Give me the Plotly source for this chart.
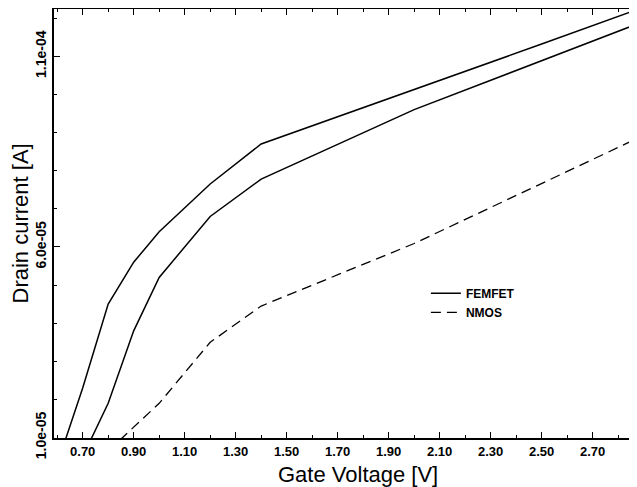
import plotly.graph_objects as go

# FEMFET, upper branch
v_fem_a = [0.6, 0.7, 0.8, 0.9, 1.0, 1.2, 1.4, 2.0, 2.5, 3.0]
i_fem_a = [0.3e-5, 2.3e-5, 4.5e-5, 5.6e-5, 6.4e-5, 7.65e-5, 8.7e-5, 1.012e-4, 1.132e-4, 1.253e-4]

# FEMFET, lower branch
v_fem_b = [0.7, 0.8, 0.9, 1.0, 1.2, 1.4, 2.0, 2.5, 3.0]
i_fem_b = [0.5e-5, 1.9e-5, 3.8e-5, 5.2e-5, 6.8e-5, 7.78e-5, 9.6e-5, 1.089e-4, 1.217e-4]

# NMOS
v_nmos = [0.8, 1.0, 1.2, 1.4, 2.0, 2.5, 3.0]
i_nmos = [0.65e-5, 1.9e-5, 3.5e-5, 4.45e-5, 6.09e-5, 7.66e-5, 9.24e-5]

x_tick_vals = [0.7, 0.9, 1.1, 1.3, 1.5, 1.7, 1.9, 2.1, 2.3, 2.5, 2.7]
x_tick_text = ["0.70", "0.90", "1.10", "1.30", "1.50", "1.70", "1.90", "2.10", "2.30", "2.50", "2.70"]
y_tick_vals = [1.0e-5, 6.0e-5, 1.1e-4]
y_tick_text = ["1.0e-05", "6.0e-05", "1.1e-04"]

FONT = "Liberation Sans, Arial, sans-serif"

fig = go.Figure()
fig.add_trace(go.Scatter(x=v_fem_a, y=i_fem_a, mode="lines", name="FEMFET",
                         legendgroup="fem", line=dict(color="black", width=1.5)))
fig.add_trace(go.Scatter(x=v_fem_b, y=i_fem_b, mode="lines", name="FEMFET",
                         legendgroup="fem", showlegend=False,
                         line=dict(color="black", width=1.5)))
fig.add_trace(go.Scatter(x=v_nmos, y=i_nmos, mode="lines", name="NMOS",
                         line=dict(color="black", width=1.3, dash="10px,6px")))

# the page body adds an 8px offset, so the figure is sized to fill the window from there
fig.update_layout(
    width=629, height=479,
    margin=dict(l=46, r=1, t=1, b=49, autoexpand=False),
    paper_bgcolor="white", plot_bgcolor="white",
    font=dict(family=FONT, color="black"),
    showlegend=True,
    legend=dict(x=0.639, y=0.371, xanchor="left", yanchor="top",
                bgcolor="rgba(0,0,0,0)", font=dict(size=12, family=FONT, weight="bold"),
                itemwidth=30, tracegroupgap=0),
    annotations=[
        dict(text="Gate Voltage [V]", xref="paper", yref="paper", x=0.522, y=0,
             xanchor="center", yanchor="middle", yshift=-36, showarrow=False,
             font=dict(size=22, family=FONT)),
        dict(text="Drain current [A]", xref="paper", yref="paper", x=0, y=0.5,
             xanchor="center", yanchor="middle", xshift=-34, textangle=-90,
             showarrow=False, font=dict(size=22, family=FONT)),
    ],
)
fig.update_xaxes(
    range=[0.5875, 2.87], showgrid=False, zeroline=False, automargin=False,
    showline=True, linecolor="black", linewidth=2, mirror="allticks",
    ticks="inside", ticklen=6, tickwidth=1, tickcolor="black",
    tickvals=x_tick_vals, ticktext=x_tick_text,
    tickfont=dict(size=13, family=FONT, weight="bold"),
    minor=dict(dtick=0.1, tick0=0.6, ticks="inside", ticklen=3, tickcolor="black"),
)
fig.update_yaxes(
    range=[0.99e-5, 1.224e-4], showgrid=False, zeroline=False, automargin=False,
    showline=True, linecolor="black", linewidth=2, mirror="allticks",
    ticks="inside", ticklen=6, tickwidth=1, tickcolor="black",
    tickvals=y_tick_vals, ticktext=y_tick_text, tickangle=-90,
    tickfont=dict(size=14, family=FONT, weight="bold"),
    minor=dict(dtick=1e-5, tick0=0, ticks="inside", ticklen=3, tickcolor="black"),
)

fig.write_html("out.html")
